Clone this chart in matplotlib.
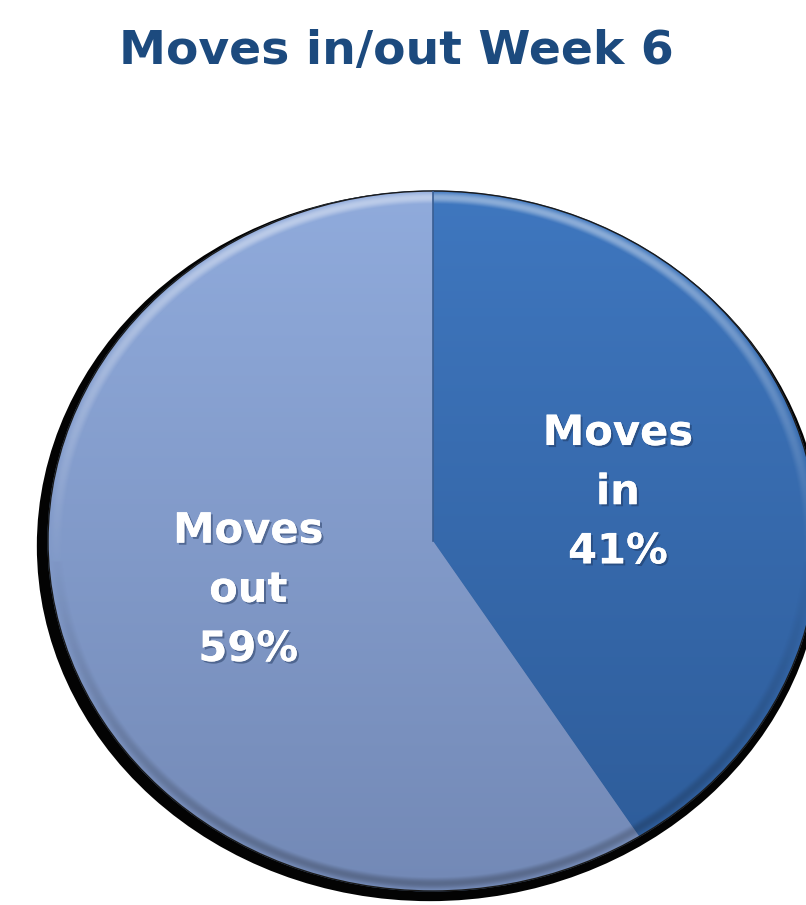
import matplotlib
matplotlib.use("Agg")
import matplotlib.pyplot as plt
import matplotlib.patheffects as pe
import numpy as np
from matplotlib.colors import LinearSegmentedColormap
from matplotlib.patches import Ellipse

TITLE = "Moves in/out Week 6"
labels = ["Moves\nin", "Moves\nout"]
shares = [41, 59]
top_colors = ["#3F77BF", "#90ABDC"]
bottom_colors = ["#2D5B98", "#7389B6"]

W, H = 806, 905
fig = plt.figure(figsize=(W / 100, H / 100), dpi=100)
fig.patch.set_facecolor("white")

# pie ellipse: centre (433, 541) px, rx 385, ry 350
cx, cy, rx, ry = 433, 541, 385, 350
ax = fig.add_axes([(cx - rx) / W, (H - cy - ry) / H, 2 * rx / W, 2 * ry / H])
ax.set_axis_off()

# dark shadow under the pie, heavier at the bottom and left
ax.add_patch(Ellipse((-0.008, -0.0145), 2.042, 2.029, facecolor="#030303",
                     edgecolor="none", zorder=0, clip_on=False))

wedges, _ = ax.pie(
    shares,
    startangle=90,
    counterclock=False,
    radius=1.0,
    colors=top_colors,
    wedgeprops={"edgecolor": "#4E72A6", "linewidth": 0.8},
)
for w in wedges:
    w.set_zorder(1)

ax.set_aspect("auto")
ax.set_xlim(-1, 1)
ax.set_ylim(-1, 1)

grad = np.linspace(1, 0, 256).reshape(-1, 1)
for w, top, bot in zip(wedges, top_colors, bottom_colors):
    cmap = LinearSegmentedColormap.from_list("g", [bot, top])
    im = ax.imshow(grad, cmap=cmap, extent=(-1, 1, -1, 1), aspect="auto",
                   origin="upper", zorder=2, interpolation="bilinear")
    im.set_clip_path(w)

# bevel: light band inside the top rim, darker band at the bottom rim
n = 700
xs = np.linspace(-1, 1, n)
gx, gy = np.meshgrid(xs, xs[::-1])
r = np.hypot(gx, gy)
t = np.clip((r - 0.96) / 0.04, 0, 1)
band = np.where(r <= 1.0, np.sin(np.pi * t) ** 1.5, 0.0)
ny = np.divide(gy, r, out=np.zeros_like(gy), where=r > 0)
light = band * np.clip(ny + 0.1, 0, 1) * 0.4
dark = band * np.clip(-ny, 0, 1) * 0.25
rgba = np.zeros((n, n, 4))
rgba[..., :3] = np.where((light > dark)[..., None], 1.0, 0.05)
rgba[..., 3] = np.maximum(light, dark)
bev = ax.imshow(rgba, extent=(-1, 1, -1, 1), aspect="auto", zorder=2.5,
                interpolation="bilinear")
bev.set_clip_path(Ellipse((0, 0), 2.0, 2.0, transform=ax.transData))

# thin outline and the slice seam
ax.add_patch(Ellipse((0, 0), 2.0, 2.0, facecolor="none", edgecolor="#1a1a1a",
                     linewidth=1.0, zorder=3, clip_on=False))
ax.plot([0, 0], [0, 1], color="#3A5E92", linewidth=1.2, zorder=3)

# slice labels at mid-angle
angles = []
start = 90.0
for s in shares:
    span = 360.0 * s / sum(shares)
    angles.append(np.deg2rad(start - span / 2))
    start -= span
for lab, s, a in zip(labels, shares, angles):
    ax.text(0.5 * np.cos(a), 0.5 * np.sin(a), f"{lab}\n{s}%", ha="center", va="center",
            color="white", fontsize=30, fontweight="bold", family="DejaVu Sans",
            linespacing=1.52, zorder=4,
            path_effects=[pe.withSimplePatchShadow(offset=(1.5, -1.5), shadow_rgbFace="#1a2f55", alpha=0.45),
                          pe.Normal()])

fig.text(396 / W, 1 - 51 / H, TITLE, ha="center", va="center", fontsize=34,
         fontweight="bold", color="#1C4A7E", family="DejaVu Sans")

fig.savefig("out.png", dpi=100, facecolor="white")
